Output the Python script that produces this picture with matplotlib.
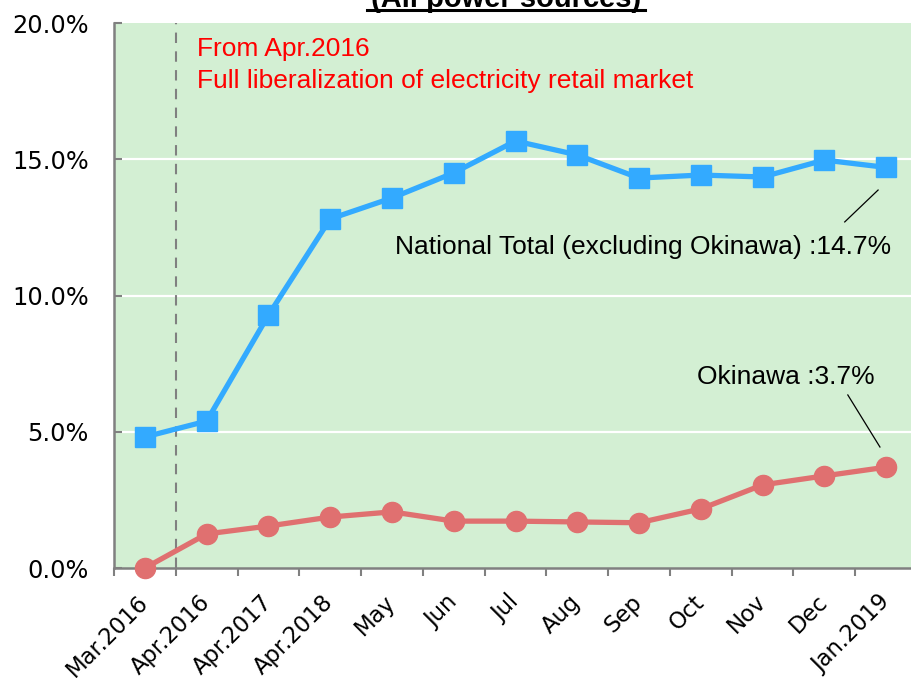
import matplotlib
matplotlib.use("Agg")
import matplotlib.pyplot as plt
from matplotlib.lines import Line2D
import numpy as np

categories = ["Mar.2016", "Apr.2016", "Apr.2017", "Apr.2018", "May", "Jun", "Jul",
              "Aug", "Sep", "Oct", "Nov", "Dec", "Jan.2019"]
national = [4.81, 5.39, 9.28, 12.81, 13.58, 14.50, 15.67, 15.16, 14.31, 14.42, 14.35, 14.97, 14.7]
okinawa = [0.0, 1.25, 1.54, 1.87, 2.06, 1.72, 1.72, 1.69, 1.66, 2.17, 3.05, 3.38, 3.7]
yticks = [0, 5, 10, 15, 20]

W, H = 912, 678
fig = plt.figure(figsize=(W / 100, H / 100), dpi=100)
left, right, top, bottom = 114, 917, 23, 568
ax = fig.add_axes([left / W, 1 - bottom / H, (right - left) / W, (bottom - top) / H])
ax.set_facecolor("#d3efd3")

x = np.arange(len(categories))
ax.set_xlim(-0.5, len(categories) - 0.5)
ax.set_ylim(0, 20)

for yv in [5, 10, 15]:
    ax.axhline(yv, color="white", lw=1.6, zorder=1)

ax.axvline(0.5, color="#808080", lw=1.5, ls=(0, (5, 4)), zorder=2)

ax.plot(x, national, color="#33aaff", lw=3.8, marker="s", ms=14, zorder=4, clip_on=False)
ax.plot(x, okinawa, color="#e07070", lw=3.8, marker="o", ms=14.5, zorder=4, clip_on=False)

ax.set_yticks(yticks)
ax.set_yticklabels([f"{v:.1f}%" for v in yticks], fontsize=17.3, family="DejaVu Sans")
ax.set_xticks(x)
ax.set_xticklabels(categories, rotation=45, ha="right", va="center", rotation_mode="anchor",
                   fontsize=16.3, family="DejaVu Sans")
ax.tick_params(axis="x", which="major", length=0, pad=22)
ax.set_xticks(np.arange(-0.5, len(categories), 1), minor=True)
ax.tick_params(axis="x", which="minor", length=6, width=1.5, color="#808080", direction="out")
ax.tick_params(axis="y", length=6, width=1.5, color="#808080", direction="in", pad=18)

for s in ["top", "right"]:
    ax.spines[s].set_visible(False)
for s in ["left", "bottom"]:
    ax.spines[s].set_color("#808080")
    ax.spines[s].set_linewidth(1.8)

ax.text(0.84, 19.05, "From Apr.2016", color="#ff0000", fontsize=19,
        family="Liberation Sans", va="center", ha="left")
ax.text(0.84, 17.87, "Full liberalization of electricity retail market", color="#ff0000",
        fontsize=19, family="Liberation Sans", va="center", ha="left")

ax.text(12.08, 11.78, "National Total (excluding Okinawa) :14.7%", color="black",
        fontsize=19, family="Liberation Sans", ha="right", va="center")
ax.plot([11.33, 11.87], [12.70, 13.87], color="black", lw=0.9, zorder=3)

ax.text(11.82, 7.01, "Okinawa :3.7%", color="black", fontsize=19,
        family="Liberation Sans", ha="right", va="center")
ax.plot([11.38, 11.90], [6.35, 4.44], color="black", lw=0.9, zorder=3)

fig.text(506 / W, 1 - 7 / H, "(All power sources)", fontsize=21, fontweight="bold",
         family="Liberation Sans", ha="center", va="baseline")
fig.add_artist(Line2D([367 / W, 645 / W], [1 - 9.5 / H, 1 - 9.5 / H], color="black", lw=2.2,
                      transform=fig.transFigure))

fig.savefig("out.png", dpi=100)
